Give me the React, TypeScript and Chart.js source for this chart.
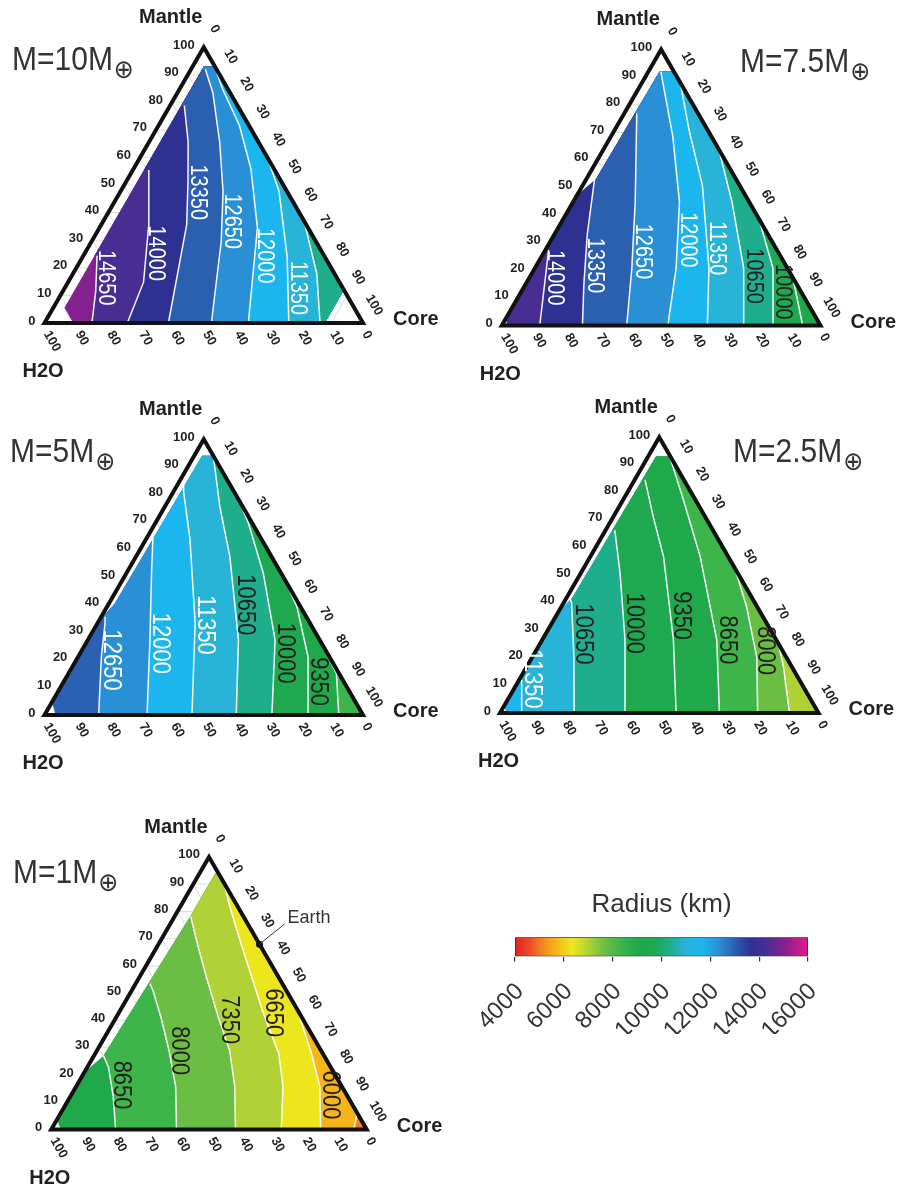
import React, { useEffect, useRef } from 'react';
import { Chart, registerables } from 'chart.js';

type MC = [number, number]; // [mantle %, core %]  (H2O % = 100 - mantle - core)
type XY = { x: number; y: number };

const FONT = "'Liberation Sans', Arial, Helvetica, sans-serif";
const SYM_FONT = "'DejaVu Sans', sans-serif";
const INK = '#231f20';

// ---------------- colour scale: radius (km) ----------------
const CBAR_TITLE = 'Radius (km)';
const CBAR_VALUES = [4000, 4667, 5000, 5667, 6333, 7000, 7667, 8333, 9000, 9667, 10333, 11000, 11667, 12333, 13000, 13667, 14333, 15000, 15667, 16000];
const CBAR_COLORS = ['#e31f26', '#ec5125', '#f27b20', '#f6b41a', '#eee71d', '#b1d236', '#6cbe44', '#3cb54a', '#1fa94b', '#1ea84f', '#1fae8c', '#28b3d8', '#1cb6ee', '#2a90d6', '#2b60b1', '#2e3192', '#482e93', '#86208f', '#c31d8d', '#e4178c'];
const CBAR_TICKS = [4000, 6000, 8000, 10000, 12000, 14000, 16000];

// ---------------- ternary axes ----------------
const AXIS_TICKS = [0, 10, 20, 30, 40, 50, 60, 70, 80, 90, 100];
const GRID_STEPS = [10, 20, 30, 40, 50, 60, 70, 80, 90];
const AXIS_NAMES = { top: 'Mantle', right: 'Core', left: 'H2O' };

// ---------------- M = 10 M_earth ----------------
const TITLE_10 = 'M=10M';
const LEVELS_10 = [14650, 14000, 13350, 12650, 12000, 11350, 10650];
const LINES_10: MC[][] = [
  [[0, 14.9], [11.8, 10.2], [24.4, 4.3]],
  [[0, 26.0], [14.8, 23.7], [34.5, 15.4], [55.5, 5.0]],
  [[0, 38.9], [35.7, 26.8], [51.3, 19.4], [65.6, 12.3], [78.8, 4.5]],
  [[0, 52.4], [29.8, 40.6], [47.7, 32.2], [65.6, 22.2], [83.5, 11.1], [92, 4.5]],
  [[0, 64.0], [34.5, 49.6], [56.0, 36.8], [71.6, 25.4], [84.7, 13.6], [93.2, 6.8]],
  [[0, 76.7], [23.8, 64.3], [47.7, 49.8], [60, 40]],
  [[0, 86.5], [17.8, 76.6], [37, 63]],
];
const LABEL_M_10 = [16.4, 25.3, 47.4, 36.9, 24.4, 12.7, null];
const DOMAIN_10: MC[] = [[0, 9], [0, 88], [12, 88], [93, 7], [93, 3.5], [5.5, 3.5]];

// ---------------- M = 7.5 M_earth ----------------
const TITLE_75 = 'M=7.5M';
const LEVELS_75 = [14000, 13350, 12650, 12000, 11350, 10650, 10000, 9350];
const LINES_75: MC[][] = [
  [[0, 11.9], [27.4, 1.0]],
  [[0, 25.3], [14.9, 18.3], [32.8, 10.4], [53, 2.6]],
  [[0, 39.2], [20.8, 30.4], [44.7, 19.5], [76.9, 3.9]],
  [[0, 52.1], [20.8, 44.3], [44.7, 33.4], [68.5, 19.4], [92, 3.9]],
  [[0, 64.5], [20.8, 54.6], [50.7, 37.6], [70.9, 23.3], [88, 12]],
  [[0, 75.9], [20.8, 65.5], [44.7, 49.9], [63.8, 36.2]],
  [[0, 85.1], [20.8, 74.7], [38.7, 61.3]],
  [[0, 94.4], [17.3, 82.7]],
];
const LABEL_M_75 = [17.3, 21.7, 26.8, 31.0, 28.0, 17.9, 12.2, null];
const DOMAIN_75: MC[] = [[0, 1.5], [2, 0.5], [48, 0.5], [53, 3], [92, 3.5], [92, 8], [0, 100]];

// ---------------- M = 5 M_earth ----------------
const TITLE_5 = 'M=5M';
const LEVELS_5 = [12650, 12000, 11350, 10650, 10000, 9350, 8650];
const LINES_5: MC[][] = [
  [[0, 17.0], [21.1, 7.3], [33.2, 2.4], [35.6, 1.2]],
  [[0, 32.2], [27.2, 19.5], [51.4, 7.9], [64.7, 1.7]],
  [[0, 46.3], [33.2, 30.7], [63.4, 14.0], [81.6, 2.8], [83.4, 2.0]],
  [[0, 60.2], [27.2, 47.3], [57.4, 29.5], [75.5, 17.3], [94, 6]],
  [[0, 71.4], [27.2, 58.8], [51.4, 43.0], [69.5, 29.3], [78.3, 21.7]],
  [[0, 83.0], [21.1, 72.2], [39.3, 59.6], [50.2, 49.8]],
  [[0, 92.4], [15.1, 84.1], [27.2, 72.8]],
];
const LABEL_M_5 = [19.9, 26.0, 32.6, 39.9, 22.4, 12.1, null];
const DOMAIN_5: MC[] = [[0, 3.5], [4, 0.5], [36, 0.5], [40, 1.8], [94, 2.5], [94, 6], [0, 100]];

// ---------------- M = 2.5 M_earth ----------------
const TITLE_25 = 'M=2.5M';
const LEVELS_25 = [11350, 10650, 10000, 9350, 8650, 8000, 7350];
const LINES_25: MC[][] = [
  [[0, 6.6], [12.0, 0.8]],
  [[0, 23.3], [20.4, 13.0], [39.8, 2.6], [41.6, 1.2]],
  [[0, 39.4], [26.5, 26.0], [50.6, 12.4], [66.3, 2.9]],
  [[0, 55.3], [26.5, 41.2], [56.7, 23.0], [71.2, 12.5], [84.5, 3.3]],
  [[0, 68.9], [26.5, 54.8], [56.7, 34.5], [77.2, 19.0], [94, 6]],
  [[0, 80.9], [20.4, 70.4], [38.6, 58.1], [52.6, 47.4]],
  [[0, 90.9], [8.3, 85.8], [16.8, 80.6], [25.3, 74.7]],
];
const LABEL_M_25 = [12.3, 28.6, 32.5, 35.3, 26.5, 22.6, null];
const DOMAIN_25: MC[] = [[0, 2], [2, 0.5], [38, 0.5], [42, 1.8], [93, 2.5], [93, 7], [0, 100]];

// ---------------- M = 1 M_earth ----------------
const TITLE_1 = 'M=1M';
const LEVELS_1 = [8650, 8000, 7350, 6650, 6000, 5350];
const LINES_1: MC[][] = [
  [[0, 20.4], [12.1, 13.6], [22.9, 6.7], [27.1, 3.0]],
  [[0, 39.7], [15.7, 31.6], [28.9, 22.9], [41.0, 14.3], [51.2, 6.6], [53.5, 4.5]],
  [[0, 58.4], [15.7, 50.3], [28.9, 42.1], [41.0, 32.5], [55.4, 21.6], [68.6, 11.9], [78.2, 5.1]],
  [[0, 72.9], [15.7, 65.6], [27.7, 58.3], [43.4, 45.3], [69.8, 24.8], [81.8, 15.7], [90.5, 9.5]],
  [[0, 85.4], [15.7, 77.3], [27.7, 68.7], [44, 56]],
  [[0, 95.9], [6, 94]],
];
const LABEL_M_1 = [16.3, 28.9, 40.3, 42.8, 12.7, null];
const DOMAIN_1: MC[] = [[0, 3], [3, 0.5], [22, 0.5], [27, 3], [53, 4], [78, 5], [94, 5], [94, 6], [0, 100]];
const EARTH_NAME = 'Earth';
const EARTH_1: MC = [68, 32];

// ---------------- helpers ----------------
const K = Math.sqrt(3) / 2;
const toXY = (p: MC): XY => ({ x: (p[1] + p[0] / 2) / 100, y: (p[0] * K) / 100 });
const GAP: XY = { x: NaN, y: NaN };

function hexRgb(h: string) {
  const n = parseInt(h.slice(1), 16);
  return [(n >> 16) & 255, (n >> 8) & 255, n & 255];
}
function cmap(v: number): string {
  const vs = CBAR_VALUES;
  if (v <= vs[0]) return CBAR_COLORS[0];
  for (let i = 1; i < vs.length; i++) {
    if (v <= vs[i]) {
      const t = (v - vs[i - 1]) / (vs[i] - vs[i - 1]);
      const a = hexRgb(CBAR_COLORS[i - 1]);
      const b = hexRgb(CBAR_COLORS[i]);
      const c = a.map((av, j) => Math.round(av + t * (b[j] - av)));
      return `rgb(${c[0]},${c[1]},${c[2]})`;
    }
  }
  return CBAR_COLORS[CBAR_COLORS.length - 1];
}
function interpX(pts: XY[], y: number): number {
  if (y <= pts[0].y) return pts[0].x;
  for (let i = 1; i < pts.length; i++) {
    if (y <= pts[i].y) {
      const a = pts[i - 1];
      const b = pts[i];
      const t = (y - a.y) / (b.y - a.y || 1);
      return a.x + t * (b.x - a.x);
    }
  }
  return pts[pts.length - 1].x;
}

// clip region fills to the computed domain of each diagram
const domainClipPlugin = {
  id: 'domainClip',
  beforeDatasetDraw(chart: any, args: any) {
    const ds = chart.data.datasets[args.index];
    if (!ds || !ds.clipPoly) return;
    const { ctx } = chart;
    const xs = chart.scales.x;
    const ys = chart.scales.y;
    ctx.save();
    ctx.beginPath();
    ds.clipPoly.forEach((p: XY, i: number) => {
      const px = xs.getPixelForValue(p.x);
      const py = ys.getPixelForValue(p.y);
      if (i === 0) ctx.moveTo(px, py);
      else ctx.lineTo(px, py);
    });
    ctx.closePath();
    ctx.clip();
  },
  afterDatasetDraw(chart: any, args: any) {
    const ds = chart.data.datasets[args.index];
    if (ds && ds.clipPoly) chart.ctx.restore();
  },
};
Chart.register(domainClipPlugin as any);
Chart.register(...registerables);

interface Spec {
  title: string;
  levels: number[];
  lines: MC[][];
  labelM: (number | null)[];
  domain: MC[];
  labelSize: number;
  earth?: MC;
}
interface Layout {
  left: number; top: number; w: number; h: number;
  blx: number; bly: number; side: number;
  tx: number; ty: number;
}

const PANELS: { spec: Spec; lay: Layout }[] = [
  { spec: { title: TITLE_10, levels: LEVELS_10, lines: LINES_10, labelM: LABEL_M_10, domain: DOMAIN_10, labelSize: 20 },
    lay: { left: 0, top: 0, w: 449, h: 390, blx: 44.5, bly: 323, side: 318.5, tx: 12, ty: 70 } },
  { spec: { title: TITLE_75, levels: LEVELS_75, lines: LINES_75, labelM: LABEL_M_75, domain: DOMAIN_75, labelSize: 20 },
    lay: { left: 449, top: 0, w: 450, h: 390, blx: 501.8, bly: 325.5, side: 318.7, tx: 740, ty: 72 } },
  { spec: { title: TITLE_5, levels: LEVELS_5, lines: LINES_5, labelM: LABEL_M_5, domain: DOMAIN_5, labelSize: 22 },
    lay: { left: 0, top: 392, w: 449, h: 396, blx: 44.5, bly: 715, side: 318.5, tx: 10, ty: 462 } },
  { spec: { title: TITLE_25, levels: LEVELS_25, lines: LINES_25, labelM: LABEL_M_25, domain: DOMAIN_25, labelSize: 22 },
    lay: { left: 449, top: 392, w: 450, h: 396, blx: 500, bly: 713, side: 318.5, tx: 733, ty: 462 } },
  { spec: { title: TITLE_1, levels: LEVELS_1, lines: LINES_1, labelM: LABEL_M_1, domain: DOMAIN_1, labelSize: 22, earth: EARTH_1 },
    lay: { left: 0, top: 795, w: 449, h: 396, blx: 48.5, bly: 1132, side: 320.5, tx: 13, ty: 883 } },
];

function drawRot(ctx: CanvasRenderingContext2D, text: string, x: number, y: number, ang: number, align: CanvasTextAlign) {
  ctx.save();
  ctx.translate(x, y);
  ctx.rotate(ang);
  ctx.textAlign = align;
  ctx.textBaseline = 'middle';
  ctx.fillText(text, 0, 0);
  ctx.restore();
}

function buildConfig(spec: Spec, lay: Layout): any {
  const S = lay.side;
  const xMin = -(lay.blx - lay.left) / S;
  const xMax = xMin + lay.w / S;
  const yMax = (lay.bly - lay.top) / S;
  const yMin = yMax - lay.h / S;
  const n = spec.levels.length;
  const regionColor = (i: number) =>
    i === 0 ? cmap(spec.levels[0] + 333) : i === n ? cmap(spec.levels[n - 1] - 333) : cmap((spec.levels[i - 1] + spec.levels[i]) / 2);
  const clipPoly = spec.domain.map(toXY);
  const base = { pointRadius: 0, pointHoverRadius: 0, pointHitRadius: 0, tension: 0, spanGaps: false };
  const datasets: any[] = [];

  // faint ternary grid
  const grid: XY[] = [];
  GRID_STEPS.forEach((k) => {
    grid.push(toXY([k, 0]), toXY([k, 100 - k]), GAP);
    grid.push(toXY([0, k]), toXY([100 - k, k]), GAP);
    grid.push(toXY([0, 100 - k]), toXY([100 - k, 0]), GAP);
  });
  datasets.push({ ...base, data: grid, borderColor: '#d2d2d2', borderWidth: 0.8, fill: false, order: 1000 });

  // filled contour bands (painter's order: whole domain, then everything right of each contour)
  datasets.push({ ...base, data: [toXY([0, 0]), toXY([0, 100]), toXY([100, 0])], fill: 'shape',
    backgroundColor: regionColor(0), borderColor: 'rgba(0,0,0,0)', borderWidth: 0, order: 900, clipPoly });
  spec.lines.forEach((ln, k) => {
    const pts = ln.map(toXY);
    const first = pts[0];
    const last = pts[pts.length - 1];
    const end = ln[ln.length - 1];
    const onRight = 100 - end[0] - end[1] < 1;
    const poly: XY[] = [...pts];
    if (onRight) poly.push({ x: 3, y: last.y }, { x: 3, y: -1 });
    else poly.push({ x: -1, y: last.y }, { x: -1, y: 2 }, { x: 3, y: 2 }, { x: 3, y: -1 });
    poly.push({ x: first.x, y: -1 });
    datasets.push({ ...base, data: poly, fill: 'shape', backgroundColor: regionColor(k + 1),
      borderColor: 'rgba(0,0,0,0)', borderWidth: 0, order: 899 - k, clipPoly });
  });

  // contour lines
  const labels: { text: string; x: number; y: number; color: string }[] = [];
  spec.lines.forEach((ln, k) => {
    const pts = ln.map(toXY);
    const lm = spec.labelM[k];
    if (lm != null) {
      const yc = (lm * K) / 100;
      labels.push({ text: String(spec.levels[k]), x: interpX(pts, yc), y: yc, color: spec.levels[k] >= 11000 ? '#ffffff' : INK });
    }
    datasets.push({ ...base, data: pts, borderColor: 'rgba(255,255,255,0.95)', borderWidth: 1.5, fill: false, order: 50 });
  });

  // triangle frame
  datasets.push({ ...base, data: [toXY([0, 50]), toXY([0, 100]), toXY([100, 0]), toXY([0, 0]), toXY([0, 50])],
    borderColor: '#111111', borderWidth: 4, borderJoinStyle: 'miter', fill: false, order: 10 });

  if (spec.earth) {
    datasets.push({ ...base, data: [toXY(spec.earth)], showLine: false, pointRadius: 3.5,
      pointBackgroundColor: '#111111', pointBorderColor: '#111111', pointBorderWidth: 0, order: 0 });
  }

  const textPlugin = {
    id: 'ternaryText',
    afterDatasetsDraw(chart: any) {
      const ctx: CanvasRenderingContext2D = chart.ctx;
      const xs = chart.scales.x;
      const ys = chart.scales.y;
      const pix = (p: XY) => [xs.getPixelForValue(p.x), ys.getPixelForValue(p.y)];
      ctx.save();
      ctx.fillStyle = INK;
      ctx.font = `bold 13px ${FONT}`;
      AXIS_TICKS.forEach((k) => {
        const [lx, ly] = pix(toXY([k, 0]));
        ctx.textAlign = 'right';
        ctx.textBaseline = 'middle';
        ctx.fillText(String(k), lx - 9, ly - 2);
        const [rx, ry] = pix(toXY([100 - k, k]));
        drawRot(ctx, String(k), rx + 11, ry - 18, Math.PI / 3, 'center');
        const [bx, by] = pix(toXY([0, 100 - k]));
        drawRot(ctx, String(k), bx + 2, by + 9, Math.PI / 3, 'left');
      });
      ctx.font = `bold 20px ${FONT}`;
      ctx.textBaseline = 'alphabetic';
      const [ax, ay] = pix(toXY([100, 0]));
      ctx.textAlign = 'center';
      ctx.fillText(AXIS_NAMES.top, ax - 33, ay - 24);
      const [cx, cy] = pix(toXY([0, 100]));
      ctx.textAlign = 'left';
      ctx.fillText(AXIS_NAMES.right, cx + 30, cy + 2);
      const [wx, wy] = pix(toXY([0, 0]));
      ctx.fillText(AXIS_NAMES.left, wx - 22, wy + 54);

      // title
      const tx = lay.tx - lay.left;
      const ty = lay.ty - lay.top;
      ctx.fillStyle = '#333333';
      ctx.save();
      ctx.translate(tx, ty);
      ctx.scale(1, 1.08);
      ctx.font = `30px ${FONT}`;
      ctx.textAlign = 'left';
      ctx.fillText(spec.title, 0, 0);
      const tw = ctx.measureText(spec.title).width;
      ctx.font = `24px ${SYM_FONT}`;
      ctx.fillText('\u2295', tw + 1, 7);
      ctx.restore();

      // contour labels
      ctx.font = `${spec.labelSize}px ${FONT}`;
      labels.forEach((l) => {
        const [x, y] = pix(l);
        ctx.save();
        ctx.translate(x + 3, y);
        ctx.rotate(Math.PI / 2);
        ctx.scale(1, 1.15);
        ctx.fillStyle = l.color;
        ctx.textAlign = 'center';
        ctx.textBaseline = 'alphabetic';
        ctx.fillText(l.text, 0, 0);
        ctx.restore();
      });

      if (spec.earth) {
        const [ex, ey] = pix(toXY(spec.earth));
        ctx.strokeStyle = '#333333';
        ctx.lineWidth = 1;
        ctx.beginPath();
        ctx.moveTo(ex, ey);
        ctx.lineTo(ex + 25, ey - 20);
        ctx.stroke();
        ctx.fillStyle = '#333333';
        ctx.font = `18px ${FONT}`;
        ctx.textAlign = 'left';
        ctx.textBaseline = 'alphabetic';
        ctx.fillText(EARTH_NAME, ex + 28, ey - 21);
      }
      ctx.restore();
    },
  };

  return {
    type: 'line',
    data: { datasets },
    options: {
      responsive: false,
      animation: false,
      devicePixelRatio: 1,
      events: [],
      layout: { padding: 0 },
      scales: {
        x: { type: 'linear', display: false, min: xMin, max: xMax },
        y: { type: 'linear', display: false, min: yMin, max: yMax },
      },
      plugins: { legend: { display: false }, tooltip: { enabled: false }, title: { display: false } },
    },
    plugins: [textPlugin],
  };
}

function TernaryPanel({ spec, lay }: { spec: Spec; lay: Layout }) {
  const ref = useRef<HTMLCanvasElement>(null);
  useEffect(() => {
    const chart = new Chart(ref.current as HTMLCanvasElement, buildConfig(spec, lay));
    return () => chart.destroy();
  }, [spec, lay]);
  return (
    <canvas ref={ref} width={lay.w} height={lay.h}
      style={{ position: 'absolute', left: lay.left, top: lay.top, width: lay.w, height: lay.h, display: 'block' }} />
  );
}

const CBAR_LAYOUT = { left: 435, top: 879, w: 453, h: 159 };

function ColorBar() {
  const ref = useRef<HTMLCanvasElement>(null);
  useEffect(() => {
    const lo = CBAR_VALUES[0];
    const hi = CBAR_VALUES[CBAR_VALUES.length - 1];
    const chart = new Chart(ref.current as HTMLCanvasElement, {
      type: 'bar',
      data: {
        labels: [CBAR_TITLE],
        datasets: [{
          data: [[lo, hi]] as any,
          backgroundColor: (c: any) => {
            const ch = c.chart;
            if (!ch.chartArea) return '#cccccc';
            const xs = ch.scales.x;
            const g = ch.ctx.createLinearGradient(xs.getPixelForValue(lo), 0, xs.getPixelForValue(hi), 0);
            CBAR_VALUES.forEach((v, i) => g.addColorStop((v - lo) / (hi - lo), CBAR_COLORS[i]));
            return g;
          },
          borderColor: '#333333',
          borderWidth: 1.2,
          borderSkipped: false,
          barPercentage: 1,
          categoryPercentage: 1,
        }],
      },
      options: {
        indexAxis: 'y',
        responsive: false,
        animation: false,
        devicePixelRatio: 1,
        events: [],
        layout: { padding: { left: 80, right: 80, top: 0, bottom: 4 } },
        plugins: {
          legend: { display: false },
          tooltip: { enabled: false },
          title: { display: true, text: CBAR_TITLE, color: '#333333', font: { family: FONT, size: 26, weight: 'normal' }, padding: { top: 10, bottom: 17 } },
        },
        scales: {
          x: {
            type: 'linear', min: lo, max: hi,
            afterBuildTicks: (ax: any) => { ax.ticks = CBAR_TICKS.map((v) => ({ value: v })); },
            ticks: { autoSkip: false, minRotation: 45, maxRotation: 45, padding: 16, labelOffset: 5, color: '#333333',
              font: { family: FONT, size: 24 }, callback: (v: any) => String(v) },
            grid: { drawOnChartArea: false, drawTicks: true, tickLength: 5, color: '#333333', lineWidth: 1.2 },
            border: { display: false },
          },
          y: { display: false },
        },
      } as any,
    });
    return () => chart.destroy();
  }, []);
  return (
    <canvas ref={ref} width={CBAR_LAYOUT.w} height={CBAR_LAYOUT.h}
      style={{ position: 'absolute', left: CBAR_LAYOUT.left, top: CBAR_LAYOUT.top, width: CBAR_LAYOUT.w, height: CBAR_LAYOUT.h, display: 'block' }} />
  );
}

export default function App() {
  return (
    <div style={{ position: 'absolute', left: 0, top: 0, width: 899, height: 1191, background: '#ffffff', overflow: 'hidden' }}>
      {PANELS.map((p, i) => (
        <TernaryPanel key={i} spec={p.spec} lay={p.lay} />
      ))}
      <ColorBar />
    </div>
  );
}
